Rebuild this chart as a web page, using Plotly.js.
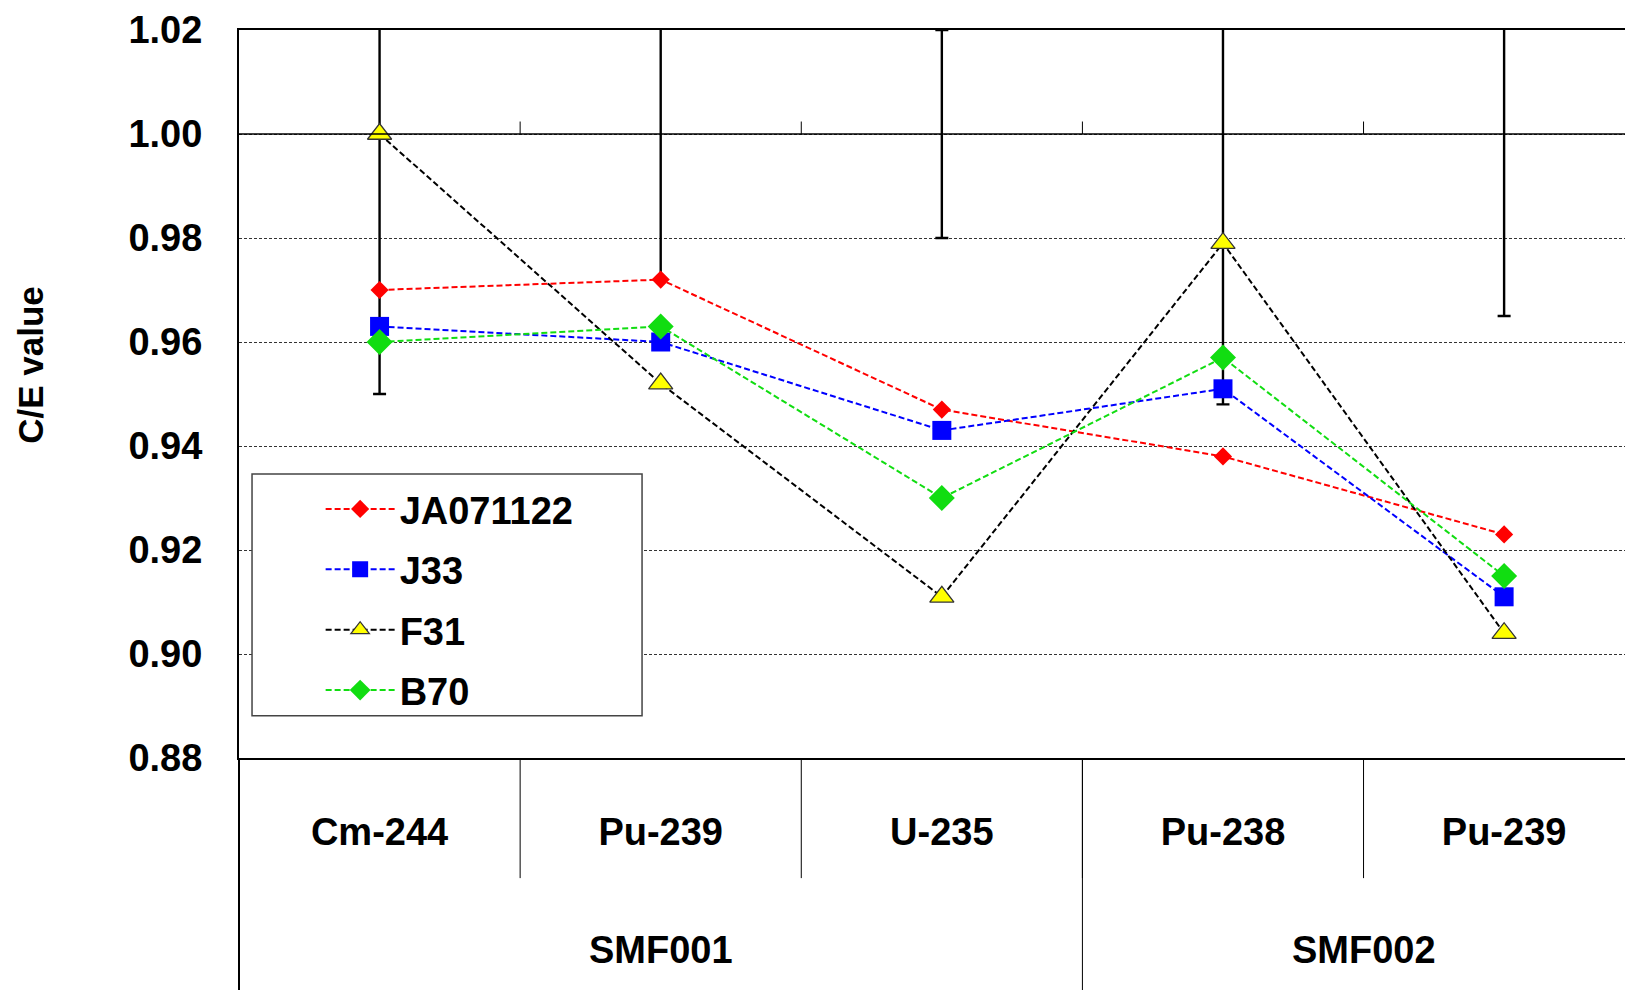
<!DOCTYPE html>
<html>
<head>
<meta charset="utf-8">
<script src="https://cdn.plot.ly/plotly-3.0.1.min.js"></script>
<style>
  html, body { margin: 0; padding: 0; background: #ffffff; }
  #chart { width: 1625px; height: 990px; }
</style>
</head>
<body>
<div id="chart"></div>
<script>
// Benchmark groups and the nuclide measured in each
const groups   = ["SMF001", "SMF001", "SMF001", "SMF002", "SMF002"];
const nuclides = ["Cm-244", "Pu-239", "U-235", "Pu-238", "Pu-239"];

// C/E values for each nuclear data library
const ja071122 = [0.970, 0.972, 0.947, 0.938, 0.923];
const j33      = [0.963, 0.960, 0.943, 0.951, 0.911];
const f31      = [1.000, 0.952, 0.911, 0.979, 0.904];
const b70      = [0.960, 0.963, 0.930, 0.957, 0.915];

// Experimental uncertainty, drawn around C/E = 1
const expRef   = [1.00, 1.00, 1.00, 1.00, 1.00];
const expErr   = [0.050, 0.028, 0.020, 0.052, 0.035];

const yTicks = [0.88, 0.90, 0.92, 0.94, 0.96, 0.98, 1.00, 1.02];

const FONT = "Liberation Sans, Arial, sans-serif";
const xPos = nuclides.map((_, i) => i);

function series(name, y, color, symbol, size, outline) {
  return {
    type: "scatter", mode: "lines+markers", name: name,
    x: xPos, y: y, legendgroup: name,
    line: { color: color, width: 2, dash: "6px,3px" },
    marker: { symbol: symbol, size: size, color: outline ? "#ffff00" : color,
              line: { color: outline || color, width: outline ? 1.3 : 0 } },
    hoverinfo: "skip"
  };
}

const traces = [
  {
    type: "scatter", mode: "markers", x: xPos, y: expRef, showlegend: false,
    marker: { size: 1, opacity: 0 }, hoverinfo: "skip",
    error_y: { type: "data", symmetric: true, array: expErr,
               color: "#000000", thickness: 2.4, width: 6.5 }
  },
  series("JA071122", ja071122, "#ff0000", "diamond", 14),
  series("J33", j33, "#0000ff", "square", 19),
  series("F31", f31, "#000000", "triangle-up", 21, "#333333"),
  series("B70", b70, "#11dd11", "diamond", 20)
];

// Category separators below the axis
const shapes = [];
for (let i = 1; i < nuclides.length; i++) {
  shapes.push({ type: "line", xref: "x", yref: "paper", x0: i - 0.5, x1: i - 0.5,
                y0: 0, y1: -0.165, line: { color: "#000000", width: 1 } });
  // small marks on the C/E = 1 line
  shapes.push({ type: "line", xref: "x", yref: "y", x0: i - 0.5, x1: i - 0.5,
                y0: 1.0, y1: 1.0024, line: { color: "#000000", width: 1 } });
}
// Group separators, running the full label depth
for (let i = 0; i < groups.length; i++) {
  if (i === 0 || groups[i] !== groups[i - 1]) {
    shapes.push({ type: "line", xref: i === 0 ? "paper" : "x", yref: "paper",
                  x0: i === 0 ? 0 : i - 0.5, x1: i === 0 ? 0 : i - 0.5,
                  y0: 0, y1: -0.33, line: { color: "#000000", width: i === 0 ? 2 : 1 } });
  }
}
// Reference line at C/E = 1
shapes.push({ type: "line", xref: "paper", yref: "y", x0: 0, x1: 1, y0: 1.0, y1: 1.0,
              line: { color: "#000000", width: 1.5 } });
// Legend frame
shapes.push({ type: "rect", xref: "paper", yref: "paper", layer: "above",
              x0: 0.0094, x1: 0.2908, y0: 0.0581, y1: 0.3901,
              fillcolor: "#ffffff", line: { color: "#444444", width: 1.5 } });

// Group names under the nuclide labels, plus the value-axis title
const annotations = [];
const seen = [];
groups.forEach(g => { if (!seen.includes(g)) seen.push(g); });
seen.forEach(g => {
  const idx = xPos.filter(i => groups[i] === g);
  const centre = (idx[0] + idx[idx.length - 1]) / 2;
  annotations.push({ xref: "x", yref: "paper", x: centre, y: -0.2637,
                     yanchor: "middle", xanchor: "center", showarrow: false, text: g,
                     font: { family: FONT, size: 38, weight: "bold", color: "#000000" } });
});
annotations.push({ xref: "paper", yref: "paper", x: -0.1501, y: 0.540,
                   xanchor: "center", yanchor: "middle", textangle: -90, showarrow: false,
                   text: "C/E value",
                   font: { family: FONT, size: 35, weight: "bold", color: "#000000" } });

const layout = {
  width: 1625, height: 990,
  margin: { l: 239, r: 0, t: 30, b: 232 },
  paper_bgcolor: "#ffffff", plot_bgcolor: "#ffffff",
  font: { family: FONT, size: 38, weight: "bold", color: "#000000" },
  showlegend: true,
  legend: {
    x: 0.0589, y: 0.385, xanchor: "left", yanchor: "top",
    bgcolor: "rgba(0,0,0,0)", borderwidth: 0,
    itemwidth: 69, traceorder: "grouped", tracegroupgap: 8,
    font: { family: FONT, size: 38, weight: "bold", color: "#000000" }
  },
  xaxis: {
    range: [-0.5, 4.43], tickmode: "array", tickvals: xPos, ticktext: nuclides,
    showgrid: false, zeroline: false, showline: true, mirror: true,
    linecolor: "#000000", linewidth: 2, ticks: "", ticklabelstandoff: 39,
    tickfont: { family: FONT, size: 38, weight: "bold" }
  },
  yaxis: {
    range: [0.88, 1.02], tickmode: "array", tickvals: yTicks,
    ticktext: yTicks.map(v => v.toFixed(2)),
    showgrid: true, gridcolor: "#333333", gridwidth: 1, griddash: "3px,2px",
    zeroline: false, showline: true, linecolor: "#000000", linewidth: 2,
    ticks: "", ticklabelstandoff: 27,
    tickfont: { family: FONT, size: 38, weight: "bold" }
  },
  shapes: shapes,
  annotations: annotations
};

Plotly.newPlot("chart", traces, layout, { displayModeBar: false, staticPlot: true });
</script>
</body>
</html>
